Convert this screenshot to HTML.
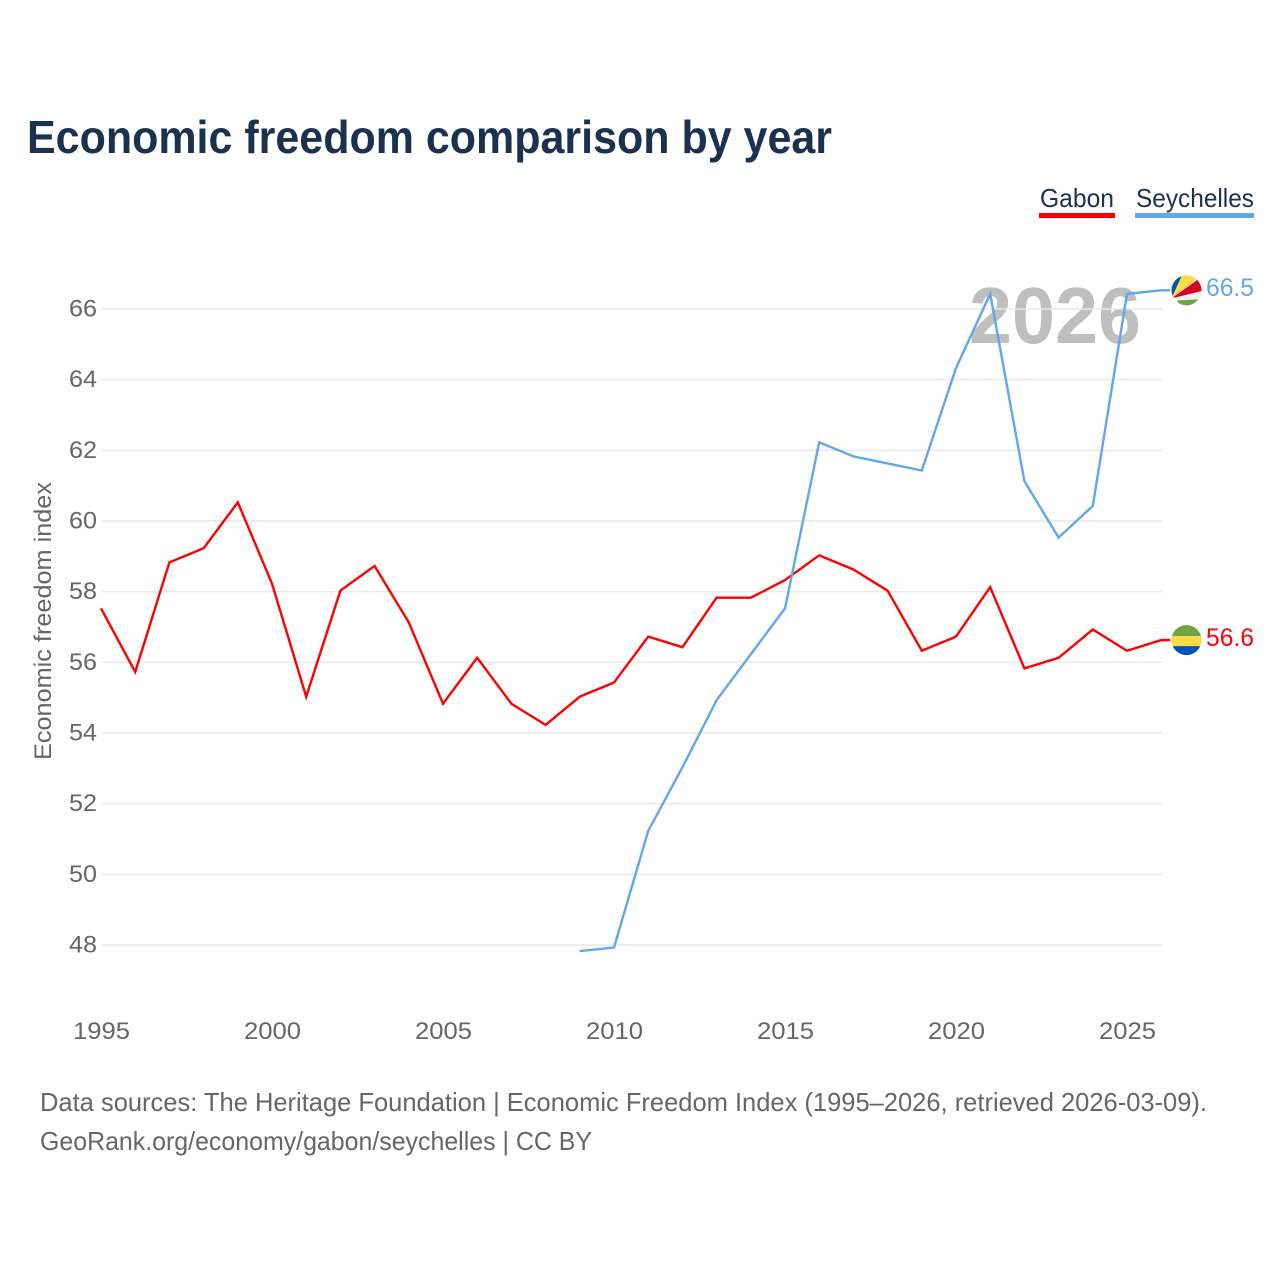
<!DOCTYPE html>
<html lang="en">
<head>
<meta charset="utf-8">
<title>Economic freedom comparison by year</title>
<style>
html,body{margin:0;padding:0;background:#fff;}
svg{display:block;font-family:"Liberation Sans",Arial,sans-serif;}
</style>
</head>
<body>
<svg id="chart" xmlns="http://www.w3.org/2000/svg" width="1280" height="1280" viewBox="0 0 1280 1280">
  <rect width="1280" height="1280" fill="#ffffff"/>
  <text x="27" y="153" font-size="46" font-weight="700" fill="#1a3150" textLength="805" lengthAdjust="spacingAndGlyphs">Economic freedom comparison by year</text>

  <g>
    <g>
      <text x="1040" y="207" font-size="26" fill="#1a3150" textLength="74" lengthAdjust="spacingAndGlyphs">Gabon</text>
      <rect x="1039" y="213" width="76" height="5" fill="#ff0000"/>
    </g>
    <g>
      <text x="1136" y="207" font-size="26" fill="#1a3150" textLength="118" lengthAdjust="spacingAndGlyphs">Seychelles</text>
      <rect x="1135" y="213" width="119" height="5" fill="#62a6ec"/>
    </g>
  </g>

  <text x="969" y="343" font-size="80" font-weight="700" fill="#bfbfbf" textLength="172" lengthAdjust="spacingAndGlyphs">2026</text>

  <g id="grid"></g>
  <g id="yticks"></g>
  <g id="xticks"></g>
  <text transform="translate(51,760) rotate(-90)" font-size="24" fill="#666666" textLength="278" lengthAdjust="spacingAndGlyphs">Economic freedom index</text>

  <g id="series" transform="translate(-1,-1)"></g>
  <g id="ends"></g>

  <g font-size="26" fill="#666666">
    <text x="40" y="1111" textLength="1167" lengthAdjust="spacingAndGlyphs">Data sources: The Heritage Foundation | Economic Freedom Index (1995–2026, retrieved 2026-03-09).</text>
    <text x="40" y="1150" textLength="552" lengthAdjust="spacingAndGlyphs">GeoRank.org/economy/gabon/seychelles | CC BY</text>
  </g>
</svg>
<script>
const gabonYears = [1995,1996,1997,1998,1999,2000,2001,2002,2003,2004,2005,2006,2007,2008,2009,2010,2011,2012,2013,2014,2015,2016,2017,2018,2019,2020,2021,2022,2023,2024,2025,2026];
const gabonValues = [57.5,55.7,58.8,59.2,60.5,58.2,55.0,58.0,58.7,57.1,54.8,56.1,54.8,54.2,55.0,55.4,56.7,56.4,57.8,57.8,58.3,59.0,58.6,58.0,56.3,56.7,58.1,55.8,56.1,56.9,56.3,56.6];
const seychellesYears = [2009,2010,2011,2012,2013,2014,2015,2016,2017,2018,2019,2020,2021,2022,2023,2024,2025,2026];
const seychellesValues = [47.8,47.9,51.2,53.0,54.9,56.2,57.5,62.2,61.8,61.6,61.4,64.3,66.4,61.1,59.5,60.4,66.4,66.5];
const yTickLabels = [48,50,52,54,56,58,60,62,64,66];
const xTickLabels = [1995,2000,2005,2010,2015,2020,2025];

const NS = 'http://www.w3.org/2000/svg';
const xScale = year => 102 + (year - 1995) * (1128 - 102) / 30;
const yScale = value => 945 - (value - 48) * (945 - 309) / 18;

function make(tag, attrs, parent) {
  const el = document.createElementNS(NS, tag);
  for (const k in attrs) el.setAttribute(k, attrs[k]);
  parent.appendChild(el);
  return el;
}

const grid = document.getElementById('grid');
const yticks = document.getElementById('yticks');
yTickLabels.forEach(v => {
  const line = make('line', {x1: 102, x2: 1162, y1: yScale(v), y2: yScale(v), stroke: '#e9e9ec', 'stroke-width': 1.4}, grid);
  
  
  const t = make('text', {x: 97, y: yScale(v) + 7.5, 'text-anchor': 'end', 'font-size': 24, fill: '#666666', textLength: 28, lengthAdjust: 'spacingAndGlyphs'}, yticks);
  t.textContent = v;
  
  
});

const xticks = document.getElementById('xticks');
xTickLabels.forEach(y => {
  const t = make('text', {x: xScale(y) - 29, y: 1039, 'font-size': 24, fill: '#666666', textLength: 57, lengthAdjust: 'spacingAndGlyphs'}, xticks);
  t.textContent = y;
  
  
});

const series = document.getElementById('series');
function drawLine(name, years, values, color) {
  let pts = years.map((y, i) => xScale(y).toFixed(2) + ',' + yScale(values[i]).toFixed(2));
  pts.push((xScale(years[years.length - 1]) + 9).toFixed(2) + ',' + yScale(values[values.length - 1]).toFixed(2));
  const p = make('polyline', {points: pts.join(' '), fill: 'none', stroke: color, 'stroke-width': 2.4, 'stroke-linejoin': 'miter'}, series);
  
  
}
drawLine('gabon', gabonYears, gabonValues, '#ff0000');
drawLine('seychelles', seychellesYears, seychellesValues, '#62a6ec');

const ends = document.getElementById('ends');
const defs = make('defs', {}, ends);
const clip = make('clipPath', {id: 'flag-clip'}, defs);
make('circle', {cx: 0, cy: 0, r: 15}, clip);

function endMarker(name, values, color, shapes) {
  const last = values[values.length - 1];
  const yp = yScale(last);
  const flag = make('g', {transform: 'translate(1186.5,' + (yp - 1).toFixed(2) + ')', 'clip-path': 'url(#flag-clip)'}, ends);
  
  
  shapes(flag);
  const t = make('text', {x: 1206, y: yp + 4.8, 'font-size': 25, fill: color, textLength: 48, lengthAdjust: 'spacingAndGlyphs'}, ends);
  t.textContent = last.toFixed(1);
  
  
}

endMarker('gabon', gabonValues, '#ff0000', g => {
  make('rect', {x: -16, y: -16, width: 32, height: 12, fill: '#6da544'}, g);
  make('rect', {x: -16, y: -4, width: 32, height: 10, fill: '#ffda44'}, g);
  make('rect', {x: -16, y: 6, width: 32, height: 11, fill: '#0052b4'}, g);
});

endMarker('seychelles', seychellesValues, '#62a6ec', g => {
  make('rect', {x: -16, y: -16, width: 32, height: 33, fill: '#f0f0f0'}, g);
  make('polygon', {points: '-15,8 -18,-16 -4,-16', fill: '#0052b4'}, g);
  make('polygon', {points: '-15,8 -4,-16 16,-16', fill: '#ffda44'}, g);
  make('polygon', {points: '-15,8 16,-14 16,0.5', fill: '#d80027'}, g);
  make('polygon', {points: '-9,10 16,9 16,17 -9,17', fill: '#6da544'}, g);
});
</script>
</body>
</html>
